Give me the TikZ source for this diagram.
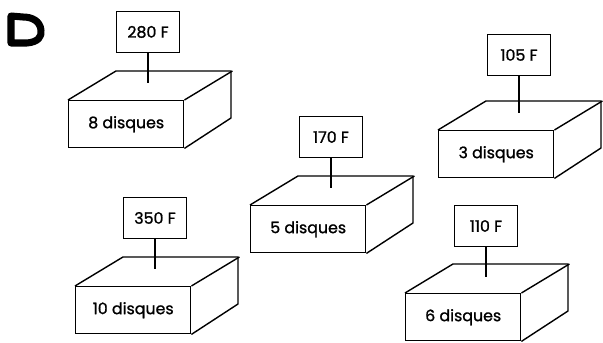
\documentclass[tikz,border=0pt]{standalone}
\usepackage{fontspec}
\newfontfamily\tagfont{Poppins}[FakeBold=1.2]
\usetikzlibrary{positioning}
\tikzstyle{face} = [
    rectangle,
    anchor=north west,
    minimum width=3.45cm,
    minimum height=1.41cm,
    inner sep=0pt,
    draw=black,
    font=\tagfont\fontsize{13.5}{15}\selectfont
]
\tikzstyle{tag} = [
    rectangle,
    anchor=south,
    minimum width=1.88cm,
    minimum height=1.22cm,
    inner sep=0pt,
    draw=black,
    font=\tagfont\fontsize{13.5}{15}\selectfont
]
\tikzstyle{edge} = [line width=1.2pt, line join=round]

\begin{document}
\begin{tikzpicture}[x=0.03cm, y=-0.03cm, line width=1.2pt]
\useasboundingbox (0,0) rectangle (603,343);

% the letter
\draw [line width=6pt, line join=round, line cap=round]
    (11,16) -- (11,43) -- (27,43) .. controls (38,42) and (42,37) .. (41,30)
    .. controls (40,21) and (32,17) .. (23,17) -- cycle;

% boxes
\node (f1) [face] at (68,100) {8 disques};
\node (f2) [face] at (250,205) {5 disques};
\node (f3) [face] at (438,130) {3 disques};
\node (f4) [face] at (75,286) {10 disques};
\node (f5) [face] at (405,293) {6 disques};

\foreach \n in {f1,f2,f3,f4,f5} {
    \draw [edge] (\n.north west) -- ++(48,-29) -- ++(115,0) -- ++(0,47)
        -- (\n.south east);
    \draw [edge] (\n.north east) -- ++(48,-29);
}

% price tags
\node (t1) [tag] at (148,53) {280 F};
\node (t2) [tag] at (331,158) {170 F};
\node (t3) [tag] at (519,76) {105 F};
\node (t4) [tag] at (155,239) {350 F};
\node (t5) [tag] at (486,247) {110 F};

\coordinate (h1) at (148,83);
\coordinate (h2) at (331,188);
\coordinate (h3) at (519,113);
\coordinate (h4) at (155,269);
\coordinate (h5) at (486,277);

\draw [edge] (t1) -- (h1);
\draw [edge] (t2) -- (h2);
\draw [edge] (t3) -- (h3);
\draw [edge] (t4) -- (h4);
\draw [edge] (t5) -- (h5);

\end{tikzpicture}
\end{document}
